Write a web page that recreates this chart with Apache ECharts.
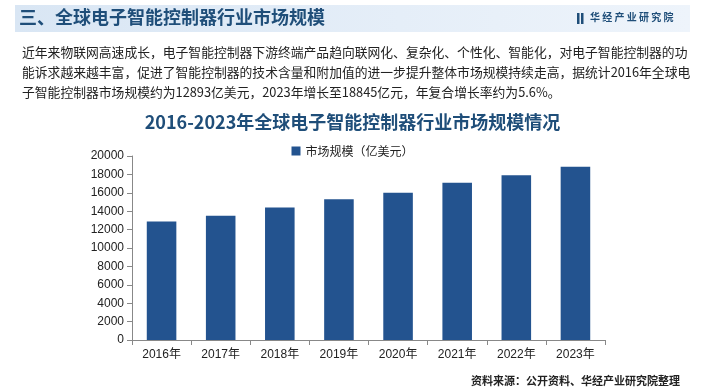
<!DOCTYPE html>
<html><head><meta charset="utf-8">
<script src="https://cdn.jsdelivr.net/npm/echarts@6/dist/echarts.min.js"></script>
<style>html,body{margin:0;padding:0;background:#fff}#c{width:705px;height:392px}</style>
</head><body><div id="c"></div>
<script>
const categories = ['2016年','2017年','2018年','2019年','2020年','2021年','2022年','2023年'];
const marketSize = [12893, 13500, 14400, 15300, 16000, 17100, 17900, 18845];
const seriesName = '市场规模（亿美元）';
const yTicks = {min: 0, max: 20000, interval: 2000};
const headerTitle = '三、全球电子智能控制器行业市场规模';
const paragraph = [
  '近年来物联网高速成长，电子智能控制器下游终端产品趋向联网化、复杂化、个性化、智能化，对电子智能控制器的功',
  '能诉求越来越丰富，促进了智能控制器的技术含量和附加值的进一步提升整体市场规模持续走高，据统计2016年全球电',
  '子智能控制器市场规模约为12893亿美元，2023年增长至18845亿元，年复合增长率约为5.6%。'
];
const chartTitle = '2016-2023年全球电子智能控制器行业市场规模情况';
const sourceText = '资料来源：公开资料、华经产业研究院整理';
const brand = '华 经 产 业 研 究 院';

const cjk = '"Noto Sans CJK SC", sans-serif';
const chart = echarts.init(document.getElementById('c'));
const paraEls = paragraph.map((t, i) => ({
  type: 'text', left: 22, top: 46 + i * 20,
  style: {text: t, fontSize: 12.8, fontFamily: cjk, fill: '#222'}
}));
chart.setOption({
  animation: false,
  title: {
    text: chartTitle, left: 'center', top: 108,
    textStyle: {fontSize: 18, fontWeight: 'bold', fontFamily: cjk, color: '#1f4e79'}
  },
  legend: {
    top: 140, left: 'center', icon: 'rect', itemWidth: 9, itemHeight: 9, itemGap: 4,
    textStyle: {fontSize: 12, fontFamily: cjk, color: '#222'},
    data: [seriesName]
  },
  grid: {left: 132, right: 100, top: 156, bottom: 52},
  xAxis: {
    type: 'category', data: categories,
    axisLine: {lineStyle: {color: '#888'}},
    axisTick: {show: true, length: 5, lineStyle: {color: '#888'}},
    axisLabel: {fontSize: 12, color: '#222', fontFamily: 'Liberation Sans, ' + cjk, margin: 9}
  },
  yAxis: {
    type: 'value', min: yTicks.min, max: yTicks.max, interval: yTicks.interval,
    axisLine: {show: true, lineStyle: {color: '#888'}},
    axisTick: {show: true, length: 5, lineStyle: {color: '#888'}},
    splitLine: {show: false},
    axisLabel: {fontSize: 12, color: '#222', fontFamily: 'Liberation Sans', margin: 8,
      formatter: v => String(v)}
  },
  series: [{
    name: seriesName, type: 'bar', data: marketSize, barWidth: '50%',
    itemStyle: {color: '#23538f'}
  }],
  graphic: [
    {type: 'rect', left: 15, top: 5, shape: {width: 675, height: 27},
     style: {fill: new echarts.graphic.LinearGradient(0, 0, 1, 0, [
       {offset: 0, color: '#d9e6f4'}, {offset: 1, color: '#eef4fb'}])}},
    {type: 'text', left: 19, top: 8,
     style: {text: headerTitle, fontSize: 18, fontWeight: 'bold', fontFamily: cjk, fill: '#1f4e79'}},
    {type: 'rect', left: 577, top: 13, shape: {width: 2.5, height: 11}, style: {fill: '#1f4e79'}},
    {type: 'rect', left: 581, top: 13, shape: {width: 2.5, height: 11}, style: {fill: '#1f4e79'}},
    {type: 'text', left: 590, top: 12,
     style: {text: brand, fontSize: 10, fontWeight: 'bold', fontFamily: cjk, fill: '#1f4e79'}},
    ...paraEls,
    {type: 'text', right: 25, top: 375,
     style: {text: sourceText, fontSize: 11, fontWeight: 'bold', fontFamily: cjk, fill: '#222'}}
  ]
});
</script></body></html>
